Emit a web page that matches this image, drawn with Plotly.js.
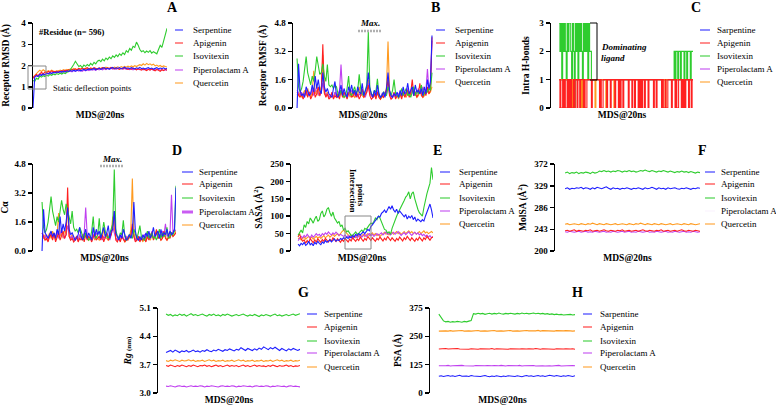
<!DOCTYPE html>
<html><head><meta charset="utf-8">
<script src="https://cdn.plot.ly/plotly-3.0.1.min.js"></script>
<style>body{margin:0;background:#fff}#chart{width:776px;height:409px}</style>
</head><body><div id="chart"></div>
<script>
// ---------- series names and colours ----------
const seriesNames = ['Serpentine','Apigenin','Isovitexin','Piperolactam A','Quercetin'];
const seriesNamesAlt = ['Sarpentine','Apigenin','Isovitexin','Piperolactam A','Quercetin'];
const seriesColors = ['#1f1fff','#ff2020','#2ecc2e','#c040f0','#ff9a1f'];
const simTimeNs = 20;

// ---------- A: receptor RMSD (Å) ----------
const rmsdSerp = [0.0,1.45,1.52,1.48,1.58,1.53,1.6,1.55,1.63,1.6,1.66,1.62,1.68,1.65,1.7,1.67,1.72,1.69,1.74,1.7,1.75,1.72,1.76,1.73,1.78,1.74,1.77,1.8,1.75,1.79,1.82,1.77,1.8,1.84,1.79,1.83,1.86,1.8,1.84,1.88,1.82,1.86,1.9,1.84,1.87,1.83,1.88,1.91,1.85,1.89,1.86,1.9,1.84,1.88,1.92,1.86,1.89,1.85,1.9,1.87,1.84,1.89,1.86,1.91,1.85,1.88,1.84,1.87,1.9,1.85,1.88,1.83,1.87,1.9,1.84,1.88,1.85,1.89,1.84,1.86];
const rmsdApig = [1.42,1.5,1.58,1.52,1.62,1.68,1.6,1.7,1.65,1.72,1.68,1.75,1.7,1.73,1.68,1.74,1.7,1.76,1.72,1.78,1.74,1.8,1.76,1.82,1.78,1.84,1.8,1.86,1.82,1.88,1.83,1.87,1.9,1.84,1.88,1.85,1.9,1.86,1.82,1.88,1.85,1.9,1.87,1.84,1.89,1.86,1.91,1.87,1.84,1.88,1.85,1.82,1.87,1.84,1.89,1.85,1.82,1.86,1.83,1.88,1.84,1.8,1.85,1.82,1.78,1.84,1.8,1.76,1.82,1.78,1.84,1.8,1.75,1.82,1.78,1.73,1.8,1.76,1.82,1.78];
const rmsdIsov = [1.3,1.25,1.4,1.35,1.5,1.45,1.52,1.48,1.55,1.5,1.58,1.54,1.6,1.56,1.62,1.58,1.64,1.6,1.66,1.62,1.68,1.72,1.8,1.9,2.05,2.2,2.1,1.95,2.0,1.9,2.02,1.96,2.05,1.98,2.1,2.02,2.15,2.08,2.2,2.25,2.18,2.3,2.22,2.35,2.28,2.4,2.32,2.45,2.38,2.5,2.42,2.55,2.48,2.6,2.52,2.7,2.62,2.8,2.72,2.9,2.85,3.1,2.95,2.75,2.65,2.7,2.6,2.68,2.62,2.7,2.58,2.65,2.6,2.55,2.75,2.95,2.85,3.2,3.45,3.75];
const rmsdPipe = [1.4,1.48,1.55,1.5,1.6,1.56,1.62,1.58,1.65,1.6,1.67,1.63,1.69,1.65,1.7,1.66,1.72,1.68,1.73,1.69,1.75,1.71,1.74,1.7,1.76,1.72,1.78,1.74,1.77,1.73,1.79,1.75,1.8,1.76,1.82,1.78,1.81,1.77,1.83,1.79,1.84,1.8,1.85,1.81,1.86,1.82,1.87,1.83,1.86,1.82,1.88,1.84,1.87,1.83,1.86,1.82,1.85,1.81,1.84,1.8,1.85,1.81,1.84,1.8,1.83,1.79,1.84,1.8,1.83,1.79,1.82,1.78,1.83,1.79,1.82,1.78,1.81,1.77,1.8,1.78];
const rmsdQuer = [1.45,1.55,1.62,1.7,1.78,1.72,1.8,1.74,1.7,1.76,1.72,1.78,1.74,1.7,1.76,1.73,1.78,1.75,1.8,1.76,1.82,1.78,1.84,1.8,1.86,1.82,1.8,1.85,1.82,1.87,1.84,1.8,1.86,1.83,1.88,1.85,1.82,1.87,1.84,1.89,1.86,1.9,1.87,1.92,1.88,1.85,1.9,1.87,1.92,1.89,1.94,1.9,1.95,1.91,1.96,1.92,1.97,1.93,1.98,1.94,1.99,1.95,2.0,2.04,2.0,2.08,2.02,2.1,2.04,2.08,2.02,2.06,1.98,2.02,1.96,2.0,1.94,1.98,1.95,1.93];

// ---------- B: receptor RMSF (Å) ----------
const rmsfSerp = [0.0,2.5,1.0,0.7,0.8,0.6,1.2,0.9,0.7,0.8,1.3,0.9,1.8,1.1,1.6,1.0,0.8,2.0,1.2,0.9,1.1,0.8,0.7,0.6,1.1,1.5,0.7,0.6,0.9,1.3,0.7,1.1,0.8,0.6,1.2,0.9,1.3,0.8,1.0,0.7,1.2,0.9,0.8,1.4,0.7,1.0,1.2,2.0,1.1,0.8,0.6,1.0,0.7,1.3,0.8,0.6,0.7,0.9,0.6,1.1,2.0,1.0,0.7,0.6,0.8,0.7,0.9,0.6,1.0,0.7,1.2,0.8,0.9,1.4,0.8,1.0,1.2,0.7,1.3,0.9,1.0,0.8,1.1,0.7,1.2,0.8,1.6,1.1,1.5,4.1];
const rmsfApig = [0.9,0.7,0.6,0.8,0.5,0.7,1.0,0.6,0.9,0.5,0.7,1.1,0.6,0.8,1.2,0.7,1.0,3.6,0.9,0.6,0.8,0.5,0.6,0.9,0.5,0.7,0.6,0.8,0.5,1.0,0.6,0.9,0.7,0.5,0.8,1.0,0.6,0.7,0.9,0.6,0.8,0.5,0.7,1.1,0.6,0.8,0.9,1.3,0.7,0.5,0.6,0.8,0.5,0.9,0.6,0.5,0.7,0.6,0.8,1.0,1.6,0.7,0.5,0.6,0.9,0.5,0.7,0.6,0.8,0.5,0.9,0.6,0.8,1.0,0.6,0.9,1.6,0.7,0.9,0.6,0.8,1.4,0.7,0.6,0.9,0.7,1.2,0.8,1.0,4.0];
const rmsfIsov = [2.8,1.2,0.9,1.1,1.5,2.2,2.9,2.0,1.6,1.3,1.8,1.5,2.1,2.9,2.4,1.9,2.0,2.5,1.8,1.5,2.45,1.3,1.2,1.3,1.1,1.3,1.2,0.8,0.7,1.0,0.8,0.6,0.7,1.1,1.8,0.8,0.7,0.9,1.2,0.8,1.0,1.9,1.1,0.8,0.7,1.0,1.3,4.3,1.2,0.8,0.7,1.0,0.9,1.65,0.8,0.6,0.7,0.9,0.8,0.7,1.2,0.9,0.7,1.0,1.6,0.8,0.7,0.6,0.8,1.1,0.7,0.9,1.1,0.7,0.8,0.6,0.9,1.2,0.7,1.0,0.8,0.9,1.3,0.7,0.8,1.0,0.9,1.1,1.0,2.0];
const rmsfPipe = [1.0,0.8,0.7,0.9,0.6,0.8,1.0,0.7,0.9,0.8,1.1,0.7,0.9,1.2,0.8,0.7,0.9,1.4,1.0,0.7,0.8,0.6,0.7,0.8,0.6,0.9,0.7,0.8,1.0,2.45,0.9,0.7,0.8,0.6,0.9,0.7,1.0,0.8,0.7,0.9,0.6,0.8,0.7,1.0,0.8,0.6,0.9,1.4,0.8,0.7,0.6,0.8,0.7,1.0,0.7,0.6,0.8,0.7,0.9,0.8,1.3,0.8,0.6,0.7,0.8,0.6,0.7,0.8,0.9,0.7,1.0,0.7,0.8,1.1,0.7,0.8,1.0,0.7,0.9,0.8,1.1,0.9,0.8,1.2,0.9,1.0,2.2,1.0,1.3,3.8];
const rmsfQuer = [0.8,0.7,0.9,0.6,0.8,1.0,0.7,1.1,0.8,0.6,0.9,2.1,0.8,1.0,0.7,1.2,0.9,3.0,0.8,0.7,0.9,0.6,0.7,0.8,0.6,0.9,0.7,0.6,0.8,1.0,0.7,0.6,0.8,0.7,0.9,0.6,0.8,0.7,0.6,0.8,0.7,1.2,0.8,0.7,0.6,0.8,1.0,1.6,0.9,0.7,0.6,0.7,0.6,0.8,0.7,0.5,0.6,0.8,0.7,1.2,3.75,1.0,0.7,0.6,0.8,0.6,0.7,0.5,0.8,0.6,0.8,0.7,0.6,0.9,0.7,0.8,1.1,0.7,0.8,0.6,0.7,0.9,0.8,0.6,0.7,0.9,1.0,0.8,0.9,1.2];

// ---------- C: intra H-bonds ----------
const hbSerp = [1,1,1,1,1,1,1,1,1,1,1,1,1,1,1,1,1,1,1,1,1,1,1,1,1,1,1,1,1,1];
const hbApig = [0,1,0,0,1,0,1,0,0,1, 0,1,0,1,0,0,1,0,1,1, 0,1,1,0,1,1,1,0,1,0, 0,1,1,1,1,1,0,1,1,1, 1,1,1,1,1,0,1,0,0,1, 1,1,1,0,1,1,1,0,1,1, 1,1,0,1,1,1,0,1,0,1, 1,0,1,1,1,1,1,0,1,1, 1,0,1,1,0,1,1,1,0,1, 0,1,0,1,1,0,1,1,1,0, 1,1,1,1,1,0,1,1,0,1, 1,1,1,1,0,1,0,0,1,0, 0,1,1,1,1,0,1,1,1,0, 1,0,0,1,1,1,0,1,0,1, 0,1,1,1,0,1,1,0,1,1];
const hbIsov = [3,2,3,1,3,2,3,2,1,3, 2,3,3,2,1,3,2,0,3,2, 3,1,3,2,3,2,0,3,2,3, 2,3,1,3,2,2,1,1,1,1, 1,1,1,1,1,1,1,1,1,1, 1,1,1,1,1,1,1,1,1,1, 1,1,1,1,1,1,1,1,1,1, 1,1,1,1,1,1,1,1,1,1, 1,1,1,1,1,1,1,1,1,1, 1,1,1,1,1,1,1,1,1,1, 1,1,1,1,1,1,1,1,1,1, 1,1,1,1,1,1,1,1,1,1, 1,1,1,1,1,1,1,1,2,1, 2,2,1,2,2,1,2,2,2,1, 2,2,1,2,2,2,1,2,2,2];
const hbPipe = [1,1,1,1,1,1,1,1,1,1,1,1,1,1,1,1,1,1,1,1,1,1,1,1,1,1,1,1,1,1];
const hbQuer = [1,1,1,1,1,1,1,1,1,1, 1,1,1,1,1,0,1,1,1,1, 1,1,1,1,1,0,1,1,1,1, 1,1,1,1,1,1,1,1,1,1, 0,1,1,1,1,1,1,1,1,1, 1,1,0,1,1,1,1,1,1,1, 1,0,1,1,1,1,1,1,1,1, 1,1,1,1,1,1,1,1,1,1, 1,1,1,1,1,1,1,1,1,0, 1,1,1,1,1,1,1,1,1,1, 1,1,1,1,1,1,1,1,1,1, 1,1,1,1,1,1,1,1,0,1, 1,1,1,1,1,1,1,1,1,1, 1,1,1,1,1,1,1,1,0,1, 1,1,1,1,1,1,1,1,1,1];

// ---------- D: C-alpha ----------
const caSerp = [0.0,2.3,1.0,0.8,0.7,0.9,1.1,0.8,1.0,0.7,1.2,0.9,1.9,1.0,1.5,1.1,1.6,2.4,1.2,0.9,1.0,0.8,0.6,0.7,0.9,1.3,0.8,0.6,0.9,1.2,0.7,1.0,0.8,0.6,1.3,0.8,1.2,0.9,1.1,0.7,1.0,1.3,0.8,1.0,1.4,0.7,1.1,1.2,2.2,1.0,0.8,0.6,0.9,0.7,1.2,0.8,0.6,0.7,0.9,0.7,1.0,2.7,1.1,0.7,0.6,0.8,0.6,0.9,0.7,1.0,0.8,1.1,0.7,0.9,1.3,0.8,1.0,1.1,0.7,1.2,0.8,1.0,0.9,1.2,0.8,1.1,0.9,1.0,1.2,3.5];
const caApig = [1.0,0.8,0.6,0.7,0.5,0.8,0.9,0.6,1.0,0.5,0.7,1.0,0.6,0.8,1.1,0.7,0.9,3.5,0.8,0.6,0.7,0.5,0.6,0.8,0.5,0.7,0.6,0.9,0.5,0.9,0.6,0.8,0.7,0.5,0.7,1.0,0.6,0.7,0.8,0.6,0.9,0.5,0.7,1.0,0.6,0.8,0.9,1.4,2.2,0.6,0.5,0.7,0.5,0.8,0.6,0.5,0.7,0.6,0.8,0.9,1.5,0.8,0.5,0.6,0.8,0.5,0.7,0.6,0.7,0.5,0.8,0.6,0.9,1.0,0.6,0.8,1.2,0.7,0.8,0.6,0.7,1.1,0.7,0.6,0.8,0.7,1.0,0.8,0.9,1.0];
const caIsov = [2.7,1.3,1.0,1.2,1.6,2.3,3.0,2.2,1.7,1.4,1.9,1.6,2.2,2.8,2.3,2.0,2.6,2.2,1.8,1.5,2.2,1.3,1.1,1.2,1.0,1.3,1.1,0.8,0.7,1.0,0.8,0.6,0.7,1.1,1.9,0.8,0.7,0.9,1.8,0.8,1.0,1.6,1.1,0.8,0.7,1.0,1.3,1.5,4.5,1.2,0.8,0.7,1.0,0.9,1.7,0.8,0.6,0.7,0.9,0.8,0.7,1.2,0.9,0.7,1.0,1.4,0.8,0.7,0.6,0.8,1.1,0.7,0.9,1.0,0.7,0.8,0.6,0.9,1.2,0.7,1.0,0.8,0.9,1.3,0.7,0.8,1.0,0.9,1.1,3.6];
const caPipe = [1.0,0.8,0.7,0.9,0.6,0.8,1.0,0.7,0.9,0.8,1.1,0.7,0.9,1.2,0.8,0.7,0.9,1.4,1.0,0.7,0.8,0.6,0.7,0.8,0.6,0.9,0.7,0.8,1.0,2.4,0.9,0.7,0.8,0.6,0.9,0.7,1.0,0.8,0.7,0.9,0.6,0.8,0.7,1.0,0.8,0.6,0.9,1.3,1.0,0.7,0.6,0.8,0.7,1.0,0.7,0.6,0.8,0.7,0.9,0.8,1.3,0.8,0.6,0.7,0.8,0.6,0.7,0.8,0.9,0.7,1.0,0.7,0.8,1.1,0.7,0.8,1.0,0.7,0.9,0.8,1.1,0.9,1.5,0.8,0.9,1.0,3.1,1.0,1.2,1.1];
const caQuer = [0.8,0.7,0.9,0.6,0.8,1.0,0.7,1.1,0.8,0.6,0.9,2.1,0.8,1.0,0.7,1.2,0.9,2.6,0.8,0.7,0.9,0.6,0.7,0.8,0.6,0.9,0.7,0.6,0.8,1.0,0.7,0.6,0.8,0.7,0.9,0.6,0.8,0.7,0.6,0.8,0.7,1.2,0.8,0.7,0.6,0.8,1.0,1.9,1.3,0.7,0.6,0.7,0.6,0.8,0.7,0.5,0.6,0.8,0.7,1.2,4.0,1.0,0.7,0.6,0.8,0.6,0.7,0.5,0.8,0.6,0.8,0.7,0.6,0.9,0.7,0.8,1.1,0.7,0.8,0.6,0.7,0.9,0.8,0.6,0.7,0.9,1.0,0.8,0.9,1.1];

// ---------- E: SASA (Å²) ----------
const sasaSerp = [20,15,22,18,25,16,20,28,18,22,15,25,20,28,22,18,26,22,30,25,28,32,26,30,35,28,32,30,36,33,38,35,40,36,42,38,45,40,48,44,50,46,52,55,50,58,62,58,70,75,82,88,95,100,98,108,112,118,110,122,128,120,130,118,112,120,108,115,110,102,98,105,92,100,95,102,90,98,85,92,88,84,90,86,100,112,120,135,118,95];
const sasaApig = [40,50,35,28,32,22,30,25,35,28,24,32,26,35,30,25,33,28,36,30,26,34,28,38,32,27,35,30,25,33,28,36,30,26,34,29,38,32,28,35,30,40,34,28,36,31,42,35,30,38,33,28,36,32,40,34,29,37,32,42,35,30,38,33,28,36,31,40,34,29,38,33,42,36,30,38,33,28,36,31,40,34,29,38,33,42,36,31,38,40];
const sasaIsov = [45,55,60,52,75,68,85,78,95,88,80,92,100,85,90,108,115,98,105,120,125,110,100,112,95,88,80,85,70,75,60,65,55,58,50,45,45,52,55,48,50,56,60,55,65,62,70,75,80,78,85,95,90,100,95,85,70,62,60,52,55,48,65,78,90,100,110,118,125,135,145,155,160,170,150,165,170,150,130,120,110,105,100,125,150,165,180,195,240,205];
const sasaPipe = [30,35,42,38,45,40,48,42,38,46,40,44,50,45,48,42,50,46,52,48,55,50,46,52,48,54,50,45,48,44,42,46,40,44,38,42,36,40,44,38,42,46,40,44,48,42,46,50,44,48,42,46,50,45,48,52,46,50,55,48,52,46,50,54,48,52,56,50,45,49,53,47,51,55,49,45,50,54,48,52,46,50,44,48,42,46,40,44,38,42];
const sasaQuer = [35,38,32,36,40,34,38,42,36,40,34,38,42,37,41,36,40,44,38,42,46,40,44,48,42,46,50,44,52,56,60,55,50,46,42,45,40,44,38,42,46,40,44,48,42,46,50,44,48,52,46,50,44,48,42,46,50,54,48,52,46,50,54,48,52,56,50,54,48,52,56,50,54,58,52,56,50,54,48,52,56,50,54,58,52,55,50,54,56,52];

// ---------- F: MolSA (Å²) ----------
const molsaSerp = [323,325,322,324,323,325,324,326,323,325,324,322,325,323,326,324,323,325,327,324,322,325,323,324,322,324,323,325,324,322,324,323,325,324,322,325,323,324,326,324,322,325,323,324,322,325,323,324,325,323,322,324,323,325,324,322,324,323,325,324];
const molsaApig = [240,241,239,240,242,239,241,240,239,241,240,242,239,240,241,239,240,242,240,239,241,240,239,241,240,242,239,240,241,239,240,241,239,240,242,240,239,241,240,239,241,240,242,239,240,241,239,240,241,239,240,242,240,239,241,240,239,241,240,239];
const molsaIsov = [354,356,353,355,354,356,353,355,354,356,355,353,356,354,355,358,357,359,357,358,356,358,357,359,358,356,358,357,359,357,358,356,357,359,358,360,358,357,359,358,356,358,357,359,357,356,358,357,355,357,356,358,356,357,355,357,356,354,356,355];
const molsaPipe = [238,237,239,238,237,238,239,237,238,239,237,238,237,239,238,237,238,239,237,238,237,239,238,237,238,239,237,238,239,237,238,237,239,238,237,238,239,237,238,237,239,238,237,238,239,237,238,237,239,238,237,238,239,237,238,237,239,238,237,238];
const molsaQuer = [253,254,252,253,254,253,252,254,253,252,254,253,255,253,252,254,253,252,254,253,252,253,254,252,253,254,253,252,254,253,252,254,253,255,253,252,254,253,252,254,253,252,254,253,252,253,254,252,253,254,253,252,254,253,252,254,253,252,253,254];

// ---------- G: Rg (nm) ----------
const rgSerp = [4.0,4.03,4.05,4.01,4.06,4.03,4.0,4.04,4.02,4.05,4.01,4.03,4.06,4.02,4.04,4.01,4.05,4.03,4.07,4.04,4.02,4.06,4.04,4.08,4.05,4.03,4.07,4.05,4.09,4.06,4.04,4.08,4.06,4.12,4.08,4.05,4.1,4.07,4.05,4.09,4.06,4.11,4.08,4.14,4.1,4.07,4.12,4.09,4.13,4.08,4.05,4.1,4.07,4.04,4.09,4.06,4.1,4.07,4.05,4.08];
const rgApig = [3.68,3.66,3.69,3.67,3.65,3.68,3.66,3.69,3.67,3.65,3.68,3.66,3.69,3.67,3.65,3.68,3.67,3.69,3.66,3.68,3.65,3.67,3.69,3.66,3.68,3.65,3.67,3.69,3.66,3.68,3.66,3.68,3.65,3.67,3.69,3.66,3.68,3.65,3.67,3.69,3.66,3.68,3.66,3.67,3.65,3.68,3.66,3.69,3.67,3.65,3.68,3.66,3.67,3.69,3.66,3.68,3.65,3.67,3.66,3.68];
const rgIsov = [4.95,4.92,4.94,4.9,4.93,4.91,4.95,4.92,4.94,4.9,4.93,4.96,4.92,4.94,4.91,4.93,4.95,4.92,4.9,4.94,4.92,4.95,4.91,4.93,4.9,4.94,4.92,4.95,4.93,4.9,4.92,4.94,4.91,4.93,4.95,4.92,4.9,4.93,4.91,4.94,4.92,4.89,4.93,4.91,4.94,4.92,4.9,4.93,4.95,4.91,4.93,4.9,4.92,4.94,4.91,4.93,4.95,4.92,4.94,4.96];
const rgPipe = [3.17,3.16,3.18,3.17,3.15,3.17,3.18,3.16,3.17,3.15,3.17,3.18,3.16,3.17,3.16,3.18,3.17,3.15,3.17,3.16,3.18,3.17,3.16,3.15,3.17,3.18,3.16,3.17,3.16,3.18,3.17,3.15,3.17,3.16,3.18,3.17,3.16,3.17,3.15,3.17,3.18,3.16,3.17,3.16,3.18,3.17,3.15,3.17,3.16,3.18,3.17,3.16,3.17,3.15,3.17,3.18,3.16,3.17,3.16,3.15];
const rgQuer = [3.8,3.78,3.81,3.79,3.82,3.8,3.78,3.81,3.79,3.8,3.82,3.79,3.81,3.78,3.8,3.79,3.81,3.78,3.8,3.82,3.79,3.81,3.78,3.8,3.79,3.81,3.78,3.8,3.79,3.81,3.78,3.8,3.82,3.79,3.81,3.78,3.8,3.79,3.81,3.78,3.8,3.79,3.81,3.78,3.8,3.79,3.81,3.78,3.8,3.82,3.79,3.81,3.78,3.8,3.79,3.81,3.78,3.8,3.79,3.81];

// ---------- H: PSA (Å) ----------
const psaSerp = [74,76,73,75,77,74,76,73,75,78,74,76,75,73,77,75,74,76,73,75,77,74,72,75,73,76,74,72,75,73,76,74,75,73,76,74,72,75,77,74,76,73,75,77,74,76,73,75,78,76,74,77,75,73,76,74,77,75,73,76];
const psaApig = [194,195,193,196,194,195,193,194,196,194,193,195,194,193,195,194,196,193,195,194,193,195,194,196,193,195,194,193,195,194,193,195,194,196,193,194,195,193,194,195,193,194,196,194,193,195,194,193,195,194,193,195,194,193,194,195,193,194,195,193];
const psaIsov = [348,330,318,314,316,312,315,313,316,314,312,316,314,317,320,350,348,352,349,351,347,350,352,348,351,349,353,350,348,351,349,352,350,348,351,349,353,350,352,349,351,353,350,352,349,351,348,350,347,349,346,348,345,347,344,346,345,347,344,346];
const psaPipe = [120,119,121,120,122,119,120,121,119,120,122,120,119,121,120,119,121,120,122,119,120,121,119,120,121,119,120,122,120,119,121,120,119,121,120,122,119,120,121,119,120,121,119,120,122,120,119,121,120,119,121,120,122,119,120,121,119,120,121,120];
const psaQuer = [273,274,272,274,273,275,273,274,272,274,276,273,275,274,273,275,274,276,273,275,274,273,275,274,276,273,275,274,273,275,274,276,273,275,274,273,275,274,276,274,273,275,274,276,273,275,274,273,275,274,273,275,274,273,274,275,273,274,273,274];

// ---------- layout helpers ----------
const W = 776, H = 409;
const fx = p => p / W, fy = p => 1 - p / H;
const SERIF = "'Liberation Serif', serif";
const timeOf = arr => arr.map((_, i) => i * simTimeNs / (arr.length - 1));

const panels = [
 {L:'A', series:[rmsdSerp,rmsdApig,rmsdIsov,rmsdPipe,rmsdQuer], order:[4,3,1,2,0], xd:[33,167], yd:[108,23], xr:[0,20], yr:[0,4], tv:[0,1,2,3,4], fmt:'', yt:'Receptor RMSD (Å)', lt:[172,7], leg:{l:[175,183], t:191, ys:[30,43,56,70,83]}, names:seriesNames, stand:10},
 {L:'B', series:[rmsfSerp,rmsfApig,rmsfIsov,rmsfPipe,rmsfQuer], order:[4,3,1,2,0], xd:[293,433], yd:[108,23], xr:[-0.6,20.15], yr:[0,4.8], tv:[0,1.6,3.2,4.8], fmt:'.1f', yt:'Receptor RMSF (Å)', lt:[435,7], leg:{l:[436,445], t:453, ys:[30,43,56,69,82]}, names:seriesNames, stand:6},
 {L:'C', series:[hbSerp,hbApig,hbIsov,hbPipe,hbQuer], order:[0,3,2,4,1], xd:[551,693], yd:[108,23], xr:[-1.2,20], yr:[0,3], tv:[0,1,2,3], fmt:'', yt:'Intra H-bonds', lt:[696,7], leg:{l:[700,710], t:715, ys:[30,43,56,69,82]}, names:seriesNamesAlt, stand:8, step:true},
 {L:'D', series:[caSerp,caApig,caIsov,caPipe,caQuer], order:[4,3,1,2,0], xd:[33,176], yd:[251,164], xr:[-1.35,20], yr:[0,4.8], tv:[0,1.6,3.2,4.8], fmt:'.1f', yt:'Cα', lt:[177,150], leg:{l:[182,193], t:197, ys:[172,184,198,212,225]}, names:seriesNames, stand:6},
 {L:'E', series:[sasaSerp,sasaApig,sasaIsov,sasaPipe,sasaQuer], order:[4,3,1,2,0], xd:[291,433], yd:[251,164], xr:[-1.05,20], yr:[0,250], tv:[0,50,100,150,200,250], fmt:'', yt:'SASA (Å<sup>2</sup>)', lt:[437,150], leg:{l:[440,450], t:457, ys:[172,184,198,211,224]}, names:seriesNames, stand:6},
 {L:'F', series:[molsaSerp,molsaApig,molsaIsov,molsaPipe,molsaQuer], order:[3,1,4,0,2], xd:[555,700], yd:[251,164], xr:[-1.5,20], yr:[200,372], tv:[200,243,286,329,372], fmt:'', yt:'MolSA (Å<sup>2</sup>)', lt:[702,150], leg:{l:[705,715], t:719, ys:[172,184,198,211,224]}, names:seriesNames, stand:6},
 {L:'G', series:[rgSerp,rgApig,rgIsov,rgPipe,rgQuer], order:[3,1,4,0,2], xd:[158,300], yd:[393,308], xr:[-1.2,20], yr:[3.0,5.1], tv:[3.0,3.7,4.4,5.1], fmt:'.1f', yt:'<i>Rg</i> <span style="font-size:7px">(nm)</span>', lt:[303,292], leg:{l:[307,317], t:322, ys:[314,327,341,353,367]}, names:seriesNames, stand:6},
 {L:'H', series:[psaSerp,psaApig,psaIsov,psaPipe,psaQuer], order:[0,3,1,4,2], xd:[430,575], yd:[393,308], xr:[-1.3,20], yr:[0,375], tv:[0,125,250,375], fmt:'', yt:'PSA (Å)', lt:[577,292], leg:{l:[583,592], t:598, ys:[314,327,341,353,367]}, names:seriesNamesAlt, stand:6}
];

const traces = [];
const layout = {
  width: W, height: H, margin:{l:0,r:0,t:0,b:0}, showlegend:false,
  paper_bgcolor:'#fff', plot_bgcolor:'rgba(0,0,0,0)',
  font:{family:SERIF, color:'#000'},
  annotations:[], shapes:[]
};

panels.forEach((p, k) => {
  const n = k === 0 ? '' : String(k + 1);
  const xa = 'x' + n, ya = 'y' + n;
  layout['xaxis' + n] = {
    domain:[fx(p.xd[0]), fx(p.xd[1])], range:p.xr, anchor:ya,
    showline:false, showticklabels:false, ticks:'', showgrid:false, zeroline:false, fixedrange:true,
    title:{text:'<b>MDS@20ns</b>', font:{family:SERIF, size:9.5}, standoff:3}
  };
  layout['yaxis' + n] = {
    domain:[fy(p.yd[0]), fy(p.yd[1])], range:p.yr, anchor:xa,
    showline:true, linecolor:'#000', linewidth:1.5, ticks:'outside', ticklen:4, tickwidth:1.5, tickcolor:'#000',
    tickvals:p.tv, tickformat:p.fmt, showgrid:false, zeroline:false, fixedrange:true,
    tickfont:{family:SERIF, size:9, weight:'bold'},
    title:{text:'<b>' + p.yt + '</b>', font:{family:SERIF, size:9.5}, standoff:p.stand}
  };
  p.order.forEach(si => {
    const y = p.series[si];
    traces.push({
      type:'scatter', mode:'lines', x:timeOf(y), y:y, xaxis:xa, yaxis:ya,
      name:p.names[si], line:{color:seriesColors[si], width:1.1, shape:p.step ? 'hv' : 'linear'},
      hoverinfo:'skip'
    });
  });
  layout.annotations.push({xref:'paper', yref:'paper', x:fx(p.lt[0]), y:fy(p.lt[1]), text:'<b>' + p.L + '</b>',
    showarrow:false, xanchor:'center', yanchor:'middle', font:{family:SERIF, size:14}});
  p.leg.ys.forEach((yy, i) => {
    layout.shapes.push({type:'line', xref:'paper', yref:'paper', x0:fx(p.leg.l[0]), x1:fx(p.leg.l[1]), y0:fy(yy), y1:fy(yy),
      line:{color:seriesColors[i], width: (p.L === 'D' && i === 3) ? 3 : 1.2}, opacity: (p.L === 'F' && i === 3) ? 0.05 : 0.85});
    layout.annotations.push({xref:'paper', yref:'paper', x:fx(p.leg.t), y:fy(yy), text:p.names[i], showarrow:false,
      xanchor:'left', yanchor:'middle', font:{family:SERIF, size:9}});
  });
});

const ann = (x, y, text, opts) => layout.annotations.push(Object.assign({xref:'paper', yref:'paper', x:fx(x), y:fy(y), text, showarrow:false, xanchor:'center', yanchor:'middle', font:{family:SERIF, size:8.5}}, opts || {}));
ann(37, 32, '<b>#Residue (n= 596)</b>', {xanchor:'left'});
ann(51, 88, 'Static deflection points', {xanchor:'left'});
ann(370, 23, '<b><i>Max.</i></b>', {font:{family:SERIF, size:9}});
ann(112, 159, '<b><i>Max.</i></b>', {font:{family:SERIF, size:9}});
ann(599, 47, '<b><i>Dominating</i></b>', {xanchor:'left', font:{family:SERIF, size:9}});
ann(599, 58, '<b><i>ligand</i></b>', {xanchor:'left', font:{family:SERIF, size:9}});
ann(353, 191, '<b>Intersection</b>', {textangle:90});
ann(361, 195, '<b>points</b>', {textangle:90});
const rect = (x0, y0, x1, y1) => layout.shapes.push({type:'rect', xref:'paper', yref:'paper', x0:fx(x0), x1:fx(x1), y0:fy(y0), y1:fy(y1), line:{color:'#888', width:1}});
const seg = (x0, y0, x1, y1, c, w, d) => layout.shapes.push({type:'line', xref:'paper', yref:'paper', x0:fx(x0), x1:fx(x1), y0:fy(y0), y1:fy(y1), line:{color:c, width:w, dash:d || 'solid'}});
rect(28, 66, 46, 89);
rect(345, 216, 371, 249);
seg(358, 31, 382, 31, '#b0b0b0', 2.5, '2px,1px');
seg(100, 166, 124, 166, '#b0b0b0', 2.5, '2px,1px');
seg(590, 23, 597, 23, '#000', 1);
seg(597, 23, 597, 80, '#000', 1);
seg(590, 80, 597, 80, '#000', 1);

Plotly.newPlot('chart', traces, layout, {staticPlot:true, displayModeBar:false});
</script>
</body></html>
